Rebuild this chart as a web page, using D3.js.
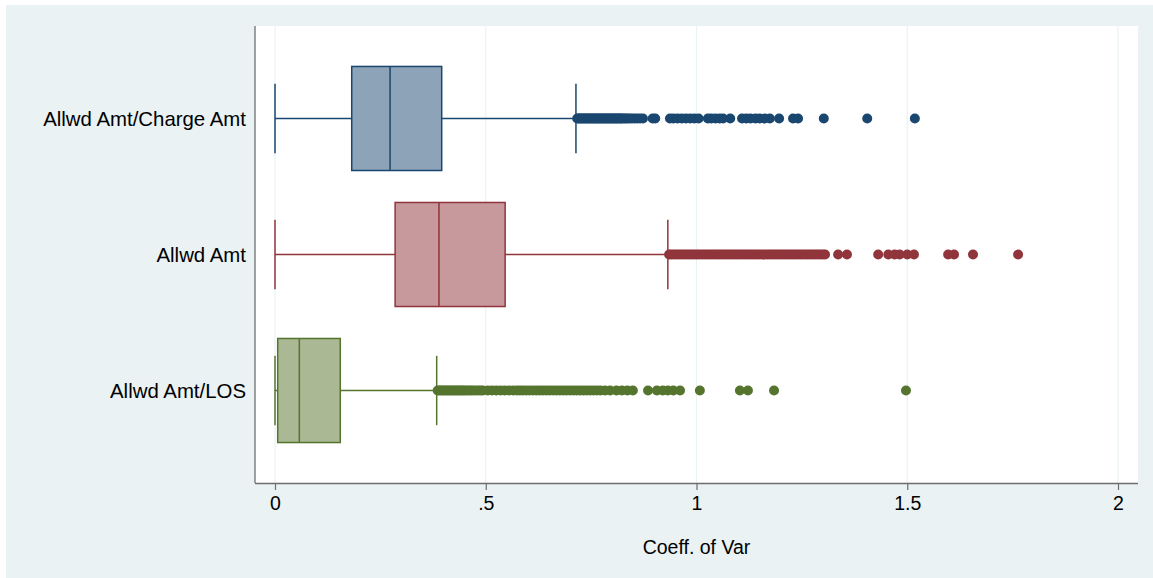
<!DOCTYPE html>
<html>
<head>
<meta charset="utf-8">
<script src="https://cdn.jsdelivr.net/npm/d3@7"></script>
<style>
  html, body { margin: 0; padding: 0; background: #ffffff; }
  svg { display: block; }
  text { font-family: "Liberation Sans", Arial, sans-serif; fill: #000; }
</style>
</head>
<body>
<svg id="chart" width="1153" height="578"></svg>
<script>
// ---- data ----
const categories = ["Allwd Amt/Charge Amt", "Allwd Amt", "Allwd Amt/LOS"];
const whiskerLow  = [0, 0, 0];
const q1          = [0.182, 0.285, 0.0064];
const median      = [0.273, 0.389, 0.0577];
const q3          = [0.3955, 0.546, 0.1549];
const whiskerHigh = [0.714, 0.932, 0.3836];
const colors      = ["#1a476f", "#90353b", "#55752f"];
const fills       = ["#8da3b8", "#c7999c", "#aab993"];
const xTicks      = [0, 0.5, 1, 1.5, 2];
const xTickLabels = ["0", ".5", "1", "1.5", "2"];
const xTitle      = "Coeff. of Var";

const outliersCharge = [
  0.717,0.720,0.723,0.726,0.729,0.732,0.735,0.738,0.741,0.744,0.747,0.750,0.753,0.756,0.759,0.762,
  0.765,0.768,0.771,0.774,0.777,0.780,0.783,0.786,0.789,0.792,0.795,0.798,0.801,0.804,0.807,0.810,
  0.813,0.816,0.819,0.822,0.825,0.829,0.833,0.837,0.842,0.847,0.853,0.859,0.866,0.873,
  0.896,0.902,0.937,0.945,0.955,0.965,0.975,0.985,0.995,1.005,1.027,1.035,1.045,1.055,1.063,1.080,
  1.108,1.118,1.128,1.140,1.150,1.162,1.174,1.196,1.229,1.241,1.302,1.405,1.518
];
const outliersAllwd = [
  0.935,0.940,0.946,0.952,0.958,0.964,0.970,0.976,0.982,0.988,0.994,1.000,1.006,1.012,1.018,1.024,
  1.030,1.036,1.042,1.048,1.054,1.060,1.066,1.072,1.078,1.084,1.090,1.096,1.102,1.108,1.114,1.120,
  1.126,1.132,1.138,1.144,1.150,1.156,1.162,1.168,1.174,1.180,1.186,1.192,1.198,1.204,1.210,1.216,
  1.222,1.228,1.234,1.240,1.246,1.252,1.258,1.264,1.270,1.276,1.282,1.288,1.294,1.300,1.305,
  1.336,1.357,1.431,1.455,1.470,1.482,1.500,1.516,1.597,1.611,1.656,1.763
];
const outliersLOS = [
  0.386,0.390,0.394,0.398,0.402,0.406,0.410,0.414,0.418,0.422,0.426,0.430,0.434,0.438,0.442,0.446,
  0.450,0.455,0.460,0.465,0.470,0.476,0.482,0.488,0.493,
  0.505,0.515,0.525,0.535,0.545,0.555,0.565,0.574,0.581,
  0.588,0.596,0.604,0.612,0.620,0.628,0.636,0.644,0.652,0.660,0.668,0.676,0.684,0.692,0.700,0.708,
  0.716,0.724,0.732,0.740,0.748,0.756,0.764,0.772,0.783,
  0.795,0.810,0.823,0.836,0.849,0.885,0.906,0.920,0.932,0.945,0.961,1.008,1.103,1.122,1.184,1.497
];
const outliers = [outliersCharge, outliersAllwd, outliersLOS];

// ---- layout ----
const svg = d3.select("#chart");
const W = 1153, H = 578;
const plot = { left: 255, right: 1138, top: 26, bottom: 483 };

// outer graph region
svg.append("rect").attr("x", 6).attr("y", 5).attr("width", W - 6).attr("height", H - 5)
  .attr("fill", "#eaf2f3");
// plot region
svg.append("rect").attr("x", plot.left).attr("y", plot.top)
  .attr("width", plot.right - plot.left).attr("height", plot.bottom - plot.top)
  .attr("fill", "#ffffff");

const x = d3.scaleLinear().domain([0, 2]).range([275, 1118]);
const y = d3.scalePoint().domain(categories).range([plot.top, plot.bottom]).padding(0.68);
const step = y.step();
const boxH = step * 0.765;
const capH = step * 0.51;

// grid lines
svg.append("g").selectAll("line").data(xTicks).join("line")
  .attr("x1", d => x(d)).attr("x2", d => x(d))
  .attr("y1", plot.top).attr("y2", plot.bottom)
  .attr("stroke", "#eaf2f3").attr("stroke-width", 1.2);

// boxes
const data = categories.map((c, i) => ({
  c, i, lo: whiskerLow[i], q1: q1[i], med: median[i], q3: q3[i], hi: whiskerHigh[i],
  color: colors[i], fill: fills[i], out: outliers[i]
}));

const g = svg.append("g");
data.forEach(d => {
  const cy = y(d.c);
  const gg = g.append("g");
  // whiskers
  gg.append("line").attr("x1", x(d.lo)).attr("x2", x(d.q1)).attr("y1", cy).attr("y2", cy)
    .attr("stroke", d.color).attr("stroke-width", 1.5);
  gg.append("line").attr("x1", x(d.q3)).attr("x2", x(d.hi)).attr("y1", cy).attr("y2", cy)
    .attr("stroke", d.color).attr("stroke-width", 1.5);
  // caps
  [d.lo, d.hi].forEach(v => {
    gg.append("line").attr("x1", x(v)).attr("x2", x(v))
      .attr("y1", cy - capH / 2).attr("y2", cy + capH / 2)
      .attr("stroke", d.color).attr("stroke-width", 1.5);
  });
  // box
  gg.append("rect").attr("x", x(d.q1)).attr("y", cy - boxH / 2)
    .attr("width", x(d.q3) - x(d.q1)).attr("height", boxH)
    .attr("fill", d.fill).attr("stroke", d.color).attr("stroke-width", 1.5);
  gg.append("line").attr("x1", x(d.med)).attr("x2", x(d.med))
    .attr("y1", cy - boxH / 2).attr("y2", cy + boxH / 2)
    .attr("stroke", d.color).attr("stroke-width", 1.5);
  // outliers
  gg.selectAll("circle").data(d.out).join("circle")
    .attr("cx", v => x(v)).attr("cy", cy).attr("r", 5)
    .attr("fill", d.color);
});

// axes lines
svg.append("line").attr("x1", plot.left).attr("x2", plot.left)
  .attr("y1", plot.top).attr("y2", plot.bottom)
  .attr("stroke", "#6e6e6e").attr("stroke-width", 1.3);

const xAxis = d3.axisBottom(x).tickValues(xTicks)
  .tickFormat((d, i) => xTickLabels[i]).tickSize(7).tickPadding(6);
const xg = svg.append("g").attr("transform", `translate(0,${plot.bottom})`).call(xAxis);
xg.select(".domain").attr("d", `M${plot.left},0.5H${plot.right}`)
  .attr("stroke", "#6e6e6e").attr("stroke-width", 1.3);
xg.selectAll(".tick line").attr("stroke", "#6e6e6e").attr("stroke-width", 1.2);
xg.selectAll(".tick text").attr("font-size", 19.5).attr("fill", "#000")
  .attr("font-family", "Liberation Sans, Arial, sans-serif");

// category labels
svg.append("g").selectAll("text").data(categories).join("text")
  .attr("x", 246).attr("y", d => y(d)).attr("dy", "0.35em")
  .attr("text-anchor", "end").attr("font-size", 20.4).text(d => d);

// axis title
svg.append("text").attr("x", (plot.left + plot.right) / 2).attr("y", 554)
  .attr("text-anchor", "middle").attr("font-size", 19.5).text(xTitle);
</script>
</body>
</html>
